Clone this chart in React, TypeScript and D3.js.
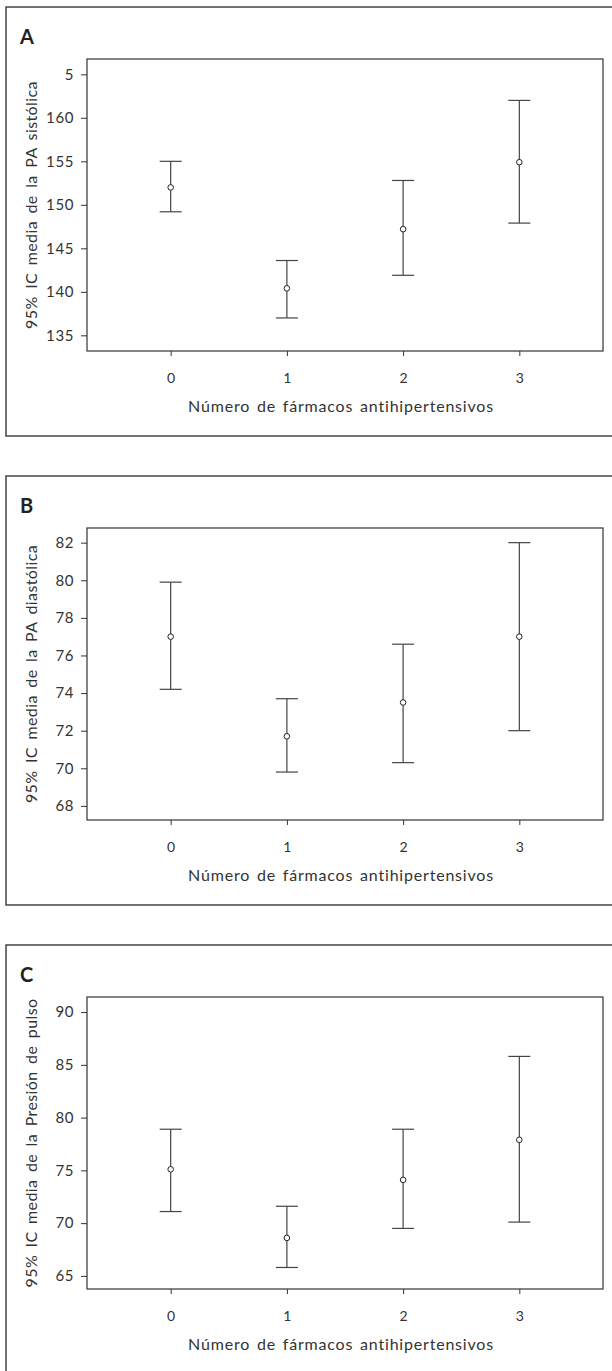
import * as d3 from "d3";
import { useRef, useEffect } from "react";

const groups = [0, 1, 2, 3];

// panel A: PA sistólica
const sysMean = [152.0, 140.4, 147.2, 154.9];
const sysLow = [149.2, 137.0, 141.9, 147.9];
const sysHigh = [155.0, 143.6, 152.8, 162.0];
const sysTicks = [135, 140, 145, 150, 155, 160, 165];
const sysTickLabels = ["135", "140", "145", "150", "155", "160", "5"];

// panel B: PA diastólica
const diaMean = [77.0, 71.7, 73.5, 77.0];
const diaLow = [74.2, 69.8, 70.3, 72.0];
const diaHigh = [79.9, 73.7, 76.6, 82.0];
const diaTicks = [68, 70, 72, 74, 76, 78, 80, 82];
const diaTickLabels = ["68", "70", "72", "74", "76", "78", "80", "82"];

// panel C: presión de pulso
const ppMean = [75.1, 68.6, 74.1, 77.9];
const ppLow = [71.1, 65.8, 69.5, 70.1];
const ppHigh = [78.9, 71.6, 78.9, 85.8];
const ppTicks = [65, 70, 75, 80, 85, 90];
const ppTickLabels = ["65", "70", "75", "80", "85", "90"];

const xTitle = "Número de fármacos antihipertensivos";
const font = "Lato, 'Open Sans', sans-serif";
const ink = "#333";

interface PanelProps {
  top: number;
  letter: string;
  yTitle: string;
  domain: [number, number];
  ticks: number[];
  tickLabels: string[];
  mean: number[];
  low: number[];
  high: number[];
}

const plotLeft = 87;
const plotRight = 603;
const plotTop = 52;
const plotBottom = 344;

function Panel({ top, letter, yTitle, domain, ticks, tickLabels, mean, low, high }: PanelProps) {
  const gx = useRef<SVGGElement>(null);
  const gy = useRef<SVGGElement>(null);

  const x = d3.scaleLinear([-0.72, 3.72], [plotLeft, plotRight]);
  const y = d3.scaleLinear(domain, [plotBottom, plotTop]);

  useEffect(() => {
    const g = d3.select(gx.current!);
    g.call(d3.axisBottom(x).tickValues(groups).tickSize(5).tickPadding(17).tickFormat(d3.format("d")));
    g.select(".domain").remove();
    g.selectAll("line").attr("stroke", ink);
    g.selectAll("text").attr("font-size", 14).attr("font-family", font).attr("fill", ink);
  }, [x]);

  useEffect(() => {
    const g = d3.select(gy.current!);
    g.call(
      d3
        .axisLeft(y)
        .tickValues(ticks)
        .tickSize(6)
        .tickPadding(7)
        .tickFormat((d, i) => tickLabels[i]),
    );
    g.select(".domain").remove();
    g.selectAll("line").attr("stroke", ink);
    g.selectAll("text")
      .attr("font-size", 15)
      .attr("letter-spacing", 0.6)
      .attr("font-family", font)
      .attr("fill", ink);
  }, [y]);

  const cap = 11;

  return (
    <g transform={`translate(0,${top})`}>
      <rect x={6} y={0} width={620} height={429} fill="none" stroke="#444" strokeWidth={1.5} />
      <text x={20} y={37} fontSize={20} fontWeight="bold" fontFamily={font} fill="#222">
        {letter}
      </text>
      <rect
        x={plotLeft}
        y={plotTop}
        width={plotRight - plotLeft}
        height={plotBottom - plotTop}
        fill="none"
        stroke={ink}
        strokeWidth={1.2}
      />
      <g ref={gx} transform={`translate(0,${plotBottom})`} />
      <g ref={gy} transform={`translate(${plotLeft},0)`} />
      <text
        transform={`translate(37,${(plotTop + plotBottom) / 2}) rotate(-90)`}
        textAnchor="middle"
        fontSize={16}
        letterSpacing={0.4}
        wordSpacing={3}
        fontFamily={font}
        fill={ink}
      >
        {yTitle}
      </text>
      <text
        x={341}
        y={405}
        textAnchor="middle"
        fontSize={16}
        letterSpacing={0.8}
        wordSpacing={2}
        fontFamily={font}
        fill={ink}
      >
        {xTitle}
      </text>
      <g stroke="#444" strokeWidth={1.2} fill="none">
        {groups.map((d, i) => (
          <g key={d}>
            <line x1={x(d)} x2={x(d)} y1={y(low[i])} y2={y(high[i])} />
            <line x1={x(d) - cap} x2={x(d) + cap} y1={y(high[i])} y2={y(high[i])} />
            <line x1={x(d) - cap} x2={x(d) + cap} y1={y(low[i])} y2={y(low[i])} />
          </g>
        ))}
      </g>
      <g fill="white" stroke="#222" strokeWidth={1}>
        {groups.map((d, i) => (
          <circle key={d} cx={x(d)} cy={y(mean[i])} r={2.8} />
        ))}
      </g>
    </g>
  );
}

export default function App() {
  return (
    <svg
      width={612}
      height={1371}
      style={{ position: "absolute", left: 0, top: 0, background: "white" }}
    >
      <Panel
        top={7}
        letter="A"
        yTitle="95% IC media de la PA sistólica"
        domain={[133.2, 166.76]}
        ticks={sysTicks}
        tickLabels={sysTickLabels}
        mean={sysMean}
        low={sysLow}
        high={sysHigh}
      />
      <Panel
        top={476}
        letter="B"
        yTitle="95% IC media de la PA diastólica"
        domain={[67.25, 82.78]}
        ticks={diaTicks}
        tickLabels={diaTickLabels}
        mean={diaMean}
        low={diaLow}
        high={diaHigh}
      />
      <Panel
        top={945}
        letter="C"
        yTitle="95% IC media de la Presión de pulso"
        domain={[63.76, 91.43]}
        ticks={ppTicks}
        tickLabels={ppTickLabels}
        mean={ppMean}
        low={ppLow}
        high={ppHigh}
      />
    </svg>
  );
}
